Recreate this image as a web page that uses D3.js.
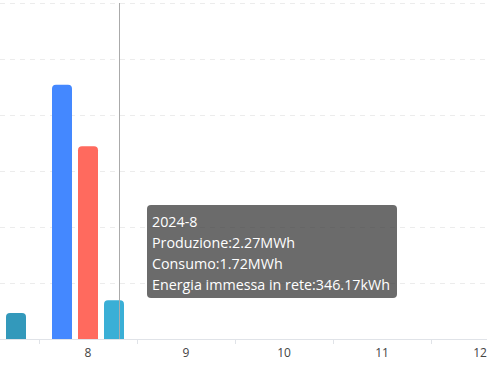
<!DOCTYPE html>
<html lang="it">
  <head>
    <meta charset="UTF-8" />
    <script src="https://cdn.jsdelivr.net/npm/d3@7"></script>
    <title>Energia</title>
    <style>
      body { margin: 0; background: #fff; }
      #chart { position: relative; width: 487px; height: 369px; overflow: hidden; }
      .tip {
        position: absolute;
        background: rgba(50, 50, 50, 0.72);
        color: #fff;
        border-radius: 4px;
        font-family: "Open Sans", "Noto Sans", sans-serif;
        font-size: 14.3px;
        line-height: 21px;
        padding: 6px 7px 3px 5px;
        white-space: nowrap;
      }
    </style>
  </head>
  <body>
    <div id="chart"></div>
    <script>
      // dati (MWh) - solo i mesi visibili
      var months = ["7", "8", "9", "10", "11", "12"];
      var series = ["Produzione", "Consumo", "Energia immessa in rete"];
      var produzione = [null, 2.27, 0, 0, 0, 0];
      var consumo = [null, 1.72, 0, 0, 0, 0];
      var immessa = [0.232, 0.34617, 0, 0, 0, 0];
      var yTicks = [0, 0.5, 1, 1.5, 2, 2.5, 3];
      var colors = ["#4488ff", "#ff6a5e", "#3399bb"];
      var activeMonth = "8";
      var year = 2024;

      var width = 487,
        height = 369,
        baseY = 339,
        topY = 3;

      var svg = d3.select("#chart").append("svg")
        .attr("width", width)
        .attr("height", height);

      var x = d3.scaleBand().domain(months).range([-59, 529]);
      var xs = d3.scaleBand().domain(series).range([0, x.bandwidth()])
        .paddingInner(6 / 26).paddingOuter(0.5);
      var y = d3.scaleLinear().domain([0, 3]).range([baseY, topY]);

      // griglia
      svg.append("g").selectAll("line").data(yTicks.slice(1)).join("line")
        .attr("x1", 0).attr("x2", width)
        .attr("y1", d => Math.round(y(d)) + 0.5).attr("y2", d => Math.round(y(d)) + 0.5)
        .attr("stroke", "#ececec").attr("stroke-dasharray", "5,5");

      var rows = [];
      months.forEach(function (m, i) {
        [produzione, consumo, immessa].forEach(function (arr, j) {
          if (arr[i]) rows.push({ month: m, s: series[j], v: arr[i], c: j });
        });
      });

      // barre con angoli arrotondati in alto
      function barPath(d) {
        var x0 = x(d.month) + xs(d.s), w = xs.bandwidth();
        var y0 = y(d.v), r = Math.min(4, (baseY - y0) / 2);
        return "M" + x0 + "," + baseY + "V" + (y0 + r) +
          "Q" + x0 + "," + y0 + " " + (x0 + r) + "," + y0 +
          "H" + (x0 + w - r) + "Q" + (x0 + w) + "," + y0 + " " + (x0 + w) + "," + (y0 + r) +
          "V" + baseY + "Z";
      }

      svg.append("g").selectAll("path").data(rows).join("path")
        .attr("d", barPath)
        .attr("fill", d => d.c === 2 && d.month === activeMonth ? "#3aafd6" : colors[d.c]);

      // asse x
      var ax = svg.append("g").attr("transform", "translate(0," + baseY + ")");
      ax.append("line").attr("x1", 0).attr("x2", width).attr("y1", 0.5).attr("y2", 0.5)
        .attr("stroke", "#e0e3e8");
      var bounds = months.map(m => x(m)).concat([x.range()[1]]);
      ax.selectAll("line.tick").data(bounds).join("line").attr("class", "tick")
        .attr("x1", d => Math.round(d) + 0.5).attr("x2", d => Math.round(d) + 0.5)
        .attr("y1", 0).attr("y2", 5).attr("stroke", "#e0e3e8");
      ax.selectAll("text").data(months.filter(m => x(m) + x.bandwidth() / 2 > 0)).join("text")
        .attr("x", d => x(d) + x.bandwidth() / 2)
        .attr("y", 18)
        .attr("text-anchor", "middle")
        .attr("font-family", "Open Sans, Noto Sans, sans-serif")
        .attr("font-size", 12)
        .attr("fill", "#444")
        .text(d => d);

      // axis pointer
      var px = 119;
      svg.append("line").attr("x1", px + 0.5).attr("x2", px + 0.5)
        .attr("y1", topY).attr("y2", baseY).attr("stroke", "#aaa");

      // tooltip
      var i = months.indexOf(activeMonth);
      function fmt(v) {
        return v >= 1 ? v.toFixed(2) + "MWh" : (v * 1000).toFixed(2) + "kWh";
      }
      d3.select("#chart").append("div").attr("class", "tip")
        .style("left", "147px").style("top", "205px")
        .html(year + "-" + activeMonth + "<br>" +
          series[0] + ":" + fmt(produzione[i]) + "<br>" +
          series[1] + ":" + fmt(consumo[i]) + "<br>" +
          series[2] + ":" + fmt(immessa[i]));
    </script>
  </body>
</html>
